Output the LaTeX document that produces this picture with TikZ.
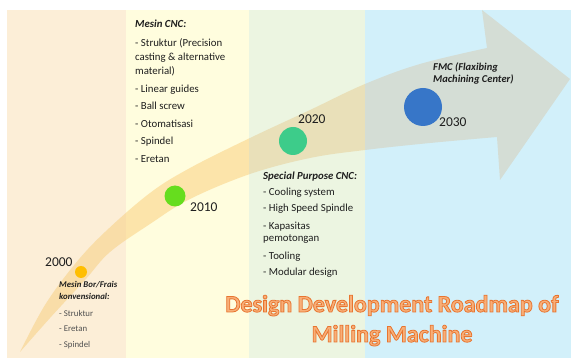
\documentclass[tikz,border=0pt]{standalone}
\usepackage{fontspec}
\setmainfont{Carlito}
\definecolor{pone}{RGB}{252,238,215}
\definecolor{ptwo}{RGB}{255,253,222}
\definecolor{pthree}{RGB}{236,245,225}
\definecolor{pfour}{RGB}{210,240,250}
\definecolor{bone}{RGB}{249,221,168}
\definecolor{btwo}{RGB}{252,228,170}
\definecolor{bthree}{RGB}{233,224,185}
\definecolor{bfour}{RGB}{212,221,213}
\definecolor{cA}{RGB}{255,190,0}
\definecolor{cB}{RGB}{102,221,30}
\definecolor{cC}{RGB}{61,204,138}
\definecolor{cD}{RGB}{55,118,200}
\definecolor{txt}{RGB}{30,30,30}
\definecolor{txtgrey}{RGB}{80,80,80}
\definecolor{titlefill}{RGB}{248,175,120}
% outlined text: fill + stroke (text render mode 2)
\newcommand{\outlinedtext}[1]{\special{pdf:literal direct 2 Tr 0.8 w 0.91 0.46 0.19 RG}#1\special{pdf:literal direct 0 Tr}}
\tikzset{
  year/.style={anchor=base west, font=\fontsize{13.5}{16}\selectfont, text=txt, inner sep=0pt},
  listblock/.style={anchor=base west, align=left, text=txt, inner sep=0pt},
  dot/.style={circle, inner sep=0pt, minimum size=#1},
}
\begin{document}
\begin{tikzpicture}[x=1pt,y=-1pt]
\useasboundingbox (0,0) rectangle (571,358);
\fill[white] (0,0) rectangle (571,358);
% panels
\fill[pone] (7,10) rectangle (126,358);
\fill[ptwo] (126,10) rectangle (249,358);
\fill[pthree] (249,10) rectangle (365,358);
\fill[pfour] (365,10) rectangle (571,358);
% curved arrow
\begin{scope}
\clip plot[smooth, tension=0.6] coordinates {(20,352) (45,305) (75,264) (105,232) (150,193) (190,168) (250,138) (310,110) (365,84) (420,64) (487,48)}
  -- (482,10) -- (570,79) -- (500,180) -- (497,137)
  -- plot[smooth, tension=0.6] coordinates {(497,137) (430,143) (365,150) (310,158) (250,174) (190,199) (150,224) (110,252) (85,280) (50,318) (20,352)} -- cycle;
\fill[bone] (0,0) rectangle (126,358);
\fill[btwo] (126,0) rectangle (249,358);
\fill[bthree] (249,0) rectangle (365,358);
\fill[bfour] (365,0) rectangle (571,358);
\end{scope}
% dots
\node[dot=12pt, fill=cA] (d2000) at (81,272) {};
\node[dot=21pt, fill=cB] (d2010) at (175,196) {};
\node[dot=28pt, fill=cC] (d2020) at (293,141) {};
\node[dot=38pt, fill=cD] (d2030) at (423,107) {};
% years
\node[year] (y2000) at (45,267) {2000};
\node[year] (y2010) at (190,212) {2010};
\node[year] (y2020) at (298,124) {2020};
\node[year] (y2030) at (439,127) {2030};
% blocks (anchored at the baseline of their last line)
\node[listblock, font=\fontsize{10.8}{14}\selectfont] (cnc) at (135,162.5)
 {\textbf{\textit{Mesin CNC:}}\\[5pt]
  - Struktur (Precision\\ casting \& alternative\\ material)\\[3.5pt]
  - Linear guides\\[3.5pt]
  - Ball screw\\[3.5pt]
  - Otomatisasi\\[3.5pt]
  - Spindel\\[3.5pt]
  - Eretan};
\node[listblock, font=\fontsize{10.8}{12}\selectfont] (spc) at (263,276)
 {\textbf{\textit{Special Purpose CNC:}}\\[4pt]
  - Cooling system\\[4pt]
  - High Speed Spindle\\[6pt]
  - Kapasitas\\ pemotongan\\[6pt]
  - Tooling\\[4pt]
  - Modular design};
\node[listblock, font=\fontsize{10.5}{12}\selectfont] (fmc) at (433,83)
 {\textbf{\textit{FMC (Flaxibing}}\\ \textbf{\textit{Machining Center)}}};
\node[listblock, font=\fontsize{8.8}{12}\selectfont] (bor) at (59,348)
 {\textbf{\textit{Mesin Bor/Frais}}\\ \textbf{\textit{konvensional:}}\\[5pt]
  {\color{txtgrey}- Struktur}\\[3pt]
  {\color{txtgrey}- Eretan}\\[4pt]
  {\color{txtgrey}- Spindel}};
% title
\node[anchor=base, align=center, inner sep=0pt, text=titlefill,
      font=\bfseries\fontsize{24}{30}\selectfont] (title) at (392,342)
 {\outlinedtext{Design Development Roadmap of}\\ \outlinedtext{Milling Machine}};
\end{tikzpicture}
\end{document}
